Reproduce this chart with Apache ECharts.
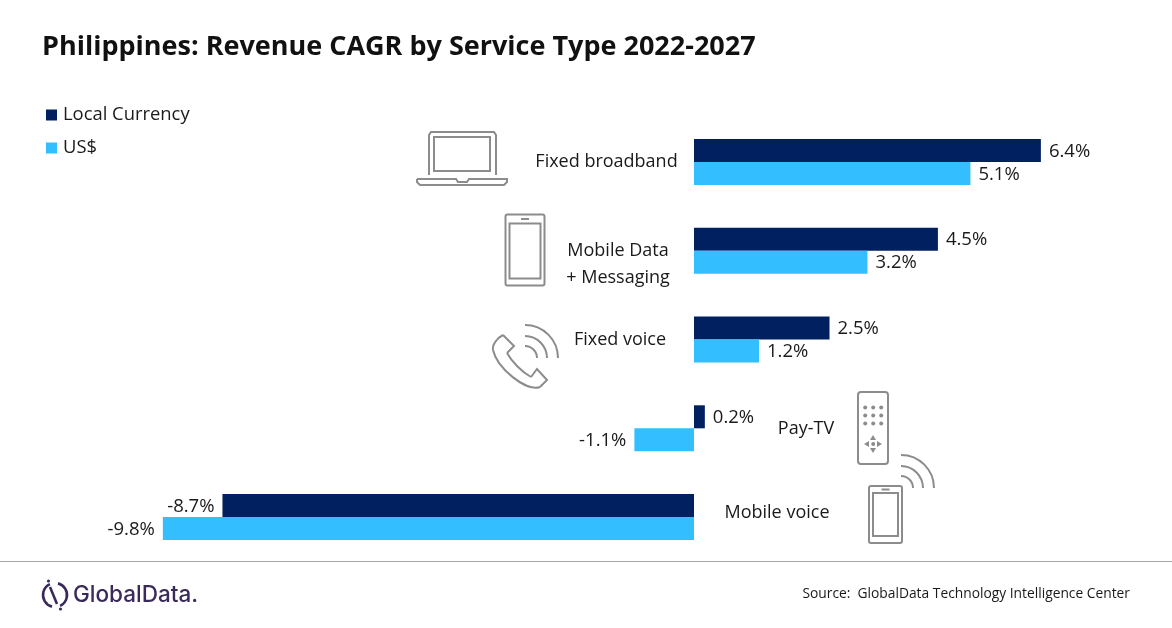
<!DOCTYPE html>
<html><head><meta charset="utf-8">
<style>html,body{margin:0;padding:0;background:#fff}#c{width:1172px;height:628px}</style>
<script src="https://cdn.jsdelivr.net/npm/echarts@6/dist/echarts.min.js"></script>
</head><body><div id="c"></div>
<script>
const categories = ['Fixed broadband', 'Mobile Data\n+ Messaging', 'Fixed voice', 'Pay-TV', 'Mobile voice'];
const localCurrency = [6.4, 4.5, 2.5, 0.2, -8.7];
const usDollar = [5.1, 3.2, 1.2, -1.1, -9.8];
const seriesNames = ['Local Currency', 'US$'];
const titleText = 'Philippines: Revenue CAGR by Service Type 2022-2027';
const sourceText = 'Source:  GlobalData Technology Intelligence Center';
const logoText = 'GlobalData.';

const FONT = '"Open Sans", sans-serif';
const INK = '#1a1a1a', ICON = '#8c8c8c';
const catPos = [[606.5, 162], [618, 264], [620, 340], [806, 429], [777, 513]];

const S = {stroke: ICON, lineWidth: 2, fill: 'none'};
const rect = (x, y, w, h, r, st) => ({type: 'rect', silent: true, shape: {x, y, width: w, height: h, r: r || 0}, style: Object.assign({}, S, st)});
const line = (a, b, c, d, st) => ({type: 'line', silent: true, shape: {x1: a, y1: b, x2: c, y2: d}, style: Object.assign({}, S, st)});
const arc = (cx, cy, r, s, e, st) => ({type: 'arc', silent: true, shape: {cx, cy, r, startAngle: s, endAngle: e, clockwise: true}, style: Object.assign({}, S, st)});
const poly = (pts, st) => ({type: 'polyline', silent: true, shape: {points: pts}, style: Object.assign({}, S, st)});
const bez = (a, st) => ({type: 'bezierCurve', silent: true, shape: {x1: a[0], y1: a[1], cpx1: a[2], cpy1: a[3], cpx2: a[4], cpy2: a[5], x2: a[6], y2: a[7]}, style: Object.assign({}, S, st)});
const dot = (x, y, r, c) => ({type: 'circle', silent: true, shape: {cx: x, cy: y, r}, style: {fill: c || ICON}});
const tri = (pts) => ({type: 'polygon', silent: true, shape: {points: pts}, style: {fill: ICON}});
const Q = Math.PI / 2;

function phone(x, y, w, h, top, bottom) {
  return [
    rect(x, y, w, h, 2),
    rect(x + 4, y + top, w - 8, h - top - bottom, 0),
    line(x + w / 2 - 4, y + top / 2, x + w / 2 + 4, y + top / 2)
  ];
}
const icons = [
  // laptop
  poly([[429, 175], [429, 135], [431, 132], [494, 132], [496, 135], [496, 175]]),
  rect(434, 137, 56, 34, 0),
  poly([[417, 179], [456, 179], [458, 182], [467, 182], [469, 179], [507, 179], [507, 182], [504, 185], [420, 185], [417, 182], [417, 179]]),
  // phones
  ...phone(505.5, 214.5, 39, 71, 9, 7),
  ...phone(869, 486, 33, 57, 7, 7),
  // fixed voice handset
  poly([[503, 335], [514, 346], [507, 353]]),
  bez([507, 353, 512, 362, 522, 372, 531, 377]),
  poly([[531, 377], [537, 369], [547, 380], [540, 387]]),
  bez([540, 387, 526, 392, 497, 368, 493, 350]),
  bez([493, 350, 492, 345, 497, 338, 503, 335]),
  arc(525, 358, 12, -Q, 0), arc(525, 358, 22, -Q, 0), arc(525, 358, 33, -Q, 0),
  // remote
  rect(858, 392, 30, 72, 3)
];
[407, 415, 423].forEach(y => [865, 873, 881].forEach(x => icons.push(dot(x + 0.2, y + 0.5, 2))));
icons.push(
  dot(873.2, 444, 2),
  tri([[873, 435], [870, 440], [876, 440]]),
  tri([[873, 453], [870, 448], [876, 448]]),
  tri([[864, 444], [869, 441], [869, 447]]),
  tri([[882, 444], [877, 441], [877, 447]]),
  arc(901, 488, 12, -Q, 0), arc(901, 488, 22, -Q, 0), arc(901, 488, 33, -Q, 0)
);
const LOGO = '#3a2a5c';
const logoMarks = [
  arc(55, 595, 12, -Math.PI * 0.42, Math.PI * 0.36, {stroke: LOGO, lineWidth: 2.6}),
  arc(55, 595, 12, Math.PI * 0.58, Math.PI * 1.36, {stroke: LOGO, lineWidth: 2.6}),
  line(50, 587, 57, 604, {stroke: LOGO, lineWidth: 2.6}),
  dot(48.5, 581, 1.6, LOGO),
  dot(60.5, 609, 1.6, LOGO)
];

const text = (t, x, y, st) => ({type: 'text', silent: true, x, y, style: Object.assign({text: t, font: '18px ' + FONT, fill: INK, align: 'center', verticalAlign: 'middle'}, st)});

const chart = echarts.init(document.getElementById('c'), null, {renderer: 'canvas'});
const barLabel = {show: true, position: 'outside', distance: 8, offset: [0, 1], color: INK, fontFamily: FONT, fontSize: 18.5,
  formatter: p => p.value.toFixed(1) + '%'};
chart.setOption({
  animation: false,
  backgroundColor: '#fff',
  title: {text: titleText, left: 42, top: 34, padding: 0, textStyle: {fontFamily: FONT, fontWeight: 'bold', fontSize: 27, color: '#111'}},
  legend: {orient: 'vertical', left: 46, top: 106, padding: 0, itemWidth: 11, itemHeight: 11, itemGap: 15, icon: 'rect',
    data: seriesNames, textStyle: {fontFamily: FONT, fontSize: 18.4, color: INK, padding: [0, 0, 0, 1]}},
  grid: {left: 43.6, top: 117.5, width: 1084, height: 444, containLabel: false},
  xAxis: {type: 'value', min: -12, max: 8, show: false},
  yAxis: {type: 'category', data: categories, inverse: true, show: false},
  series: [
    {name: seriesNames[0], type: 'bar', data: localCurrency, barWidth: 23, barGap: '0%', itemStyle: {color: '#002060'}, label: barLabel},
    {name: seriesNames[1], type: 'bar', data: usDollar, barWidth: 23, barGap: '0%', itemStyle: {color: '#33BFFF'}, label: barLabel}
  ],
  graphic: {elements: [
    line(0, 561.5, 1172, 561.5, {stroke: '#a6a6a6', lineWidth: 1}),
    ...categories.map((c, i) => text(c, catPos[i][0], catPos[i][1], {lineHeight: 27})),
    ...icons,
    ...logoMarks,
    text(logoText, 73, 595, {align: 'left', font: '500 22.5px Inter, sans-serif', fill: LOGO}),
    text(sourceText, 1130, 594, {align: 'right', font: '13.8px ' + FONT})
  ]}
});
</script></body></html>
